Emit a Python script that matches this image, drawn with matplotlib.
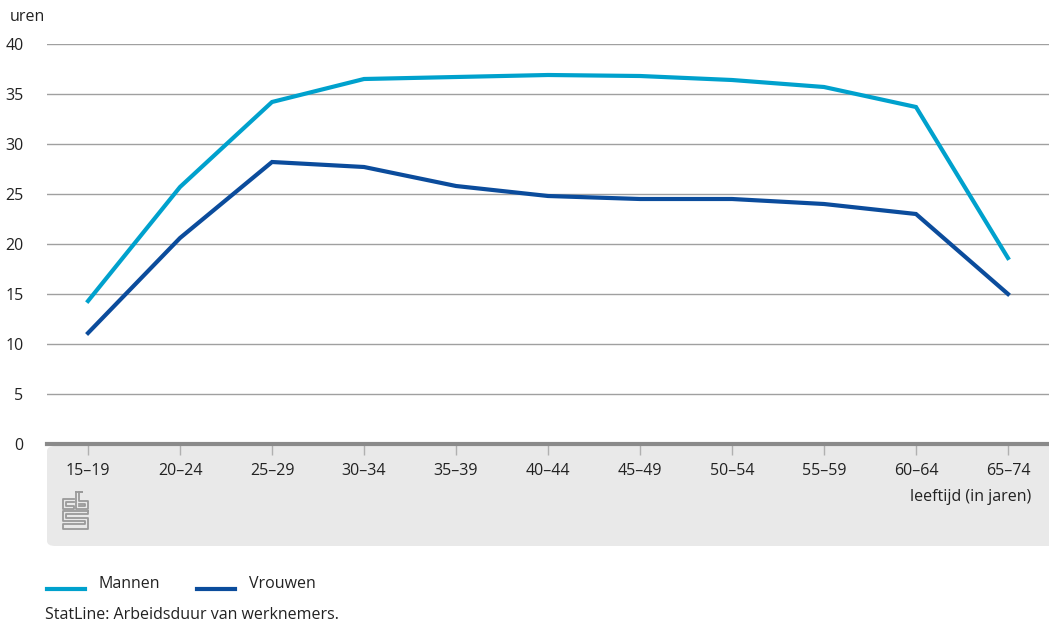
"""
Arbeidsduur van werknemers naar leeftijd (CBS-stijl)
"""

import numpy as np
import matplotlib.pyplot as plt
from matplotlib.patches import FancyBboxPatch

plt.rcParams['font.family'] = ['Open Sans', 'DejaVu Sans']

leeftijd = ['15–19', '20–24', '25–29', '30–34', '35–39', '40–44',
            '45–49', '50–54', '55–59', '60–64', '65–74']
mannen = [14.3, 25.7, 34.2, 36.5, 36.7, 36.9, 36.8, 36.4, 35.7, 33.7, 18.6]
vrouwen = [11.1, 20.6, 28.2, 27.7, 25.8, 24.8, 24.5, 24.5, 24.0, 23.0, 15.0]
yticks = [0, 5, 10, 15, 20, 25, 30, 35, 40]

W, H = 1049, 626
fs = 11.5
tc = '#222222'
fig = plt.figure(figsize=(W / 100, H / 100), dpi=100)

# grijze band onder de x-as
band = FancyBboxPatch((47 / W, 1 - 546 / H), 1.05 - 47 / W, (546 - 446) / H,
                      boxstyle='round,pad=0,rounding_size=0.008',
                      transform=fig.transFigure, facecolor='#e9e9e9',
                      edgecolor='none', zorder=-5)
fig.patches.append(band)

ax = fig.add_axes([47 / W, 1 - 444 / H, 1 - 47 / W, 400 / H])
ax.patch.set_alpha(0)

x = np.arange(len(leeftijd))
ax.plot(x, mannen, color='#00a1cd', lw=3, solid_joinstyle='miter', zorder=3)
ax.plot(x, vrouwen, color='#0b4c9c', lw=3, solid_joinstyle='miter', zorder=3)

ax.set_xlim(-0.446, 10.446)
ax.set_ylim(0, 40)
ax.set_yticks(yticks)
ax.set_xticks(x)
ax.set_xticklabels(leeftijd)
ax.grid(axis='y', color='#a0a0a0', lw=1)
ax.set_axisbelow(True)
for s in ['top', 'right', 'left']:
    ax.spines[s].set_visible(False)
ax.spines['bottom'].set_color('#8a8a8a')
ax.spines['bottom'].set_linewidth(3)
ax.spines['bottom'].set_zorder(4)
ax.tick_params(axis='y', length=0, pad=17, labelsize=fs, labelcolor=tc)
ax.tick_params(axis='x', length=8, width=1, color='#b0b0b0', pad=6,
               labelsize=fs, labelcolor=tc)

fig.text(10 / W, 1 - 17 / H, 'uren', fontsize=fs, color=tc, va='center')
fig.text(1031 / W, 1 - 497 / H, 'leeftijd (in jaren)', fontsize=fs,
         color=tc, ha='right', va='center')

# cbs-logo, eenvoudig nagetekend
lc = '#9a9a9a'
def px(xs, ys):
    return [v / W for v in xs], [1 - v / H for v in ys]
logo = [
    # c
    ([74, 63, 63, 74, 74, 66, 66, 74], [499, 499, 509, 509, 506, 506, 502, 502]),
    # b
    ([76, 76, 88, 88, 79, 79, 82, 82, 76], [492, 509, 509, 501, 501, 492, 492, 492, 492]),
    ([79, 85, 85, 79], [504, 504, 506, 506]),
    # s
    ([88, 63, 63, 85, 85, 63, 63, 88, 88, 66, 66, 88, 88],
     [511, 511, 521, 521, 524, 524, 529, 529, 518, 518, 514, 514, 511]),
]
for xs, ys in logo:
    fx, fy = px(xs, ys)
    fig.add_artist(plt.Line2D(fx, fy, color=lc, lw=1.3, transform=fig.transFigure))

# legenda
for x0, kleur, naam in [(47, '#00a1cd', 'Mannen'), (197, '#0b4c9c', 'Vrouwen')]:
    fx, fy = px([x0, x0 + 38], [589, 589])
    fig.add_artist(plt.Line2D(fx, fy, color=kleur, lw=3, transform=fig.transFigure))
    fig.text((x0 + 52) / W, 1 - 584 / H, naam, fontsize=fs, color=tc,
             va='center')

fig.text(45 / W, 1 - 615 / H, 'StatLine: Arbeidsduur van werknemers.',
         fontsize=fs, color=tc, va='center')

fig.savefig('out.png', dpi=100)
